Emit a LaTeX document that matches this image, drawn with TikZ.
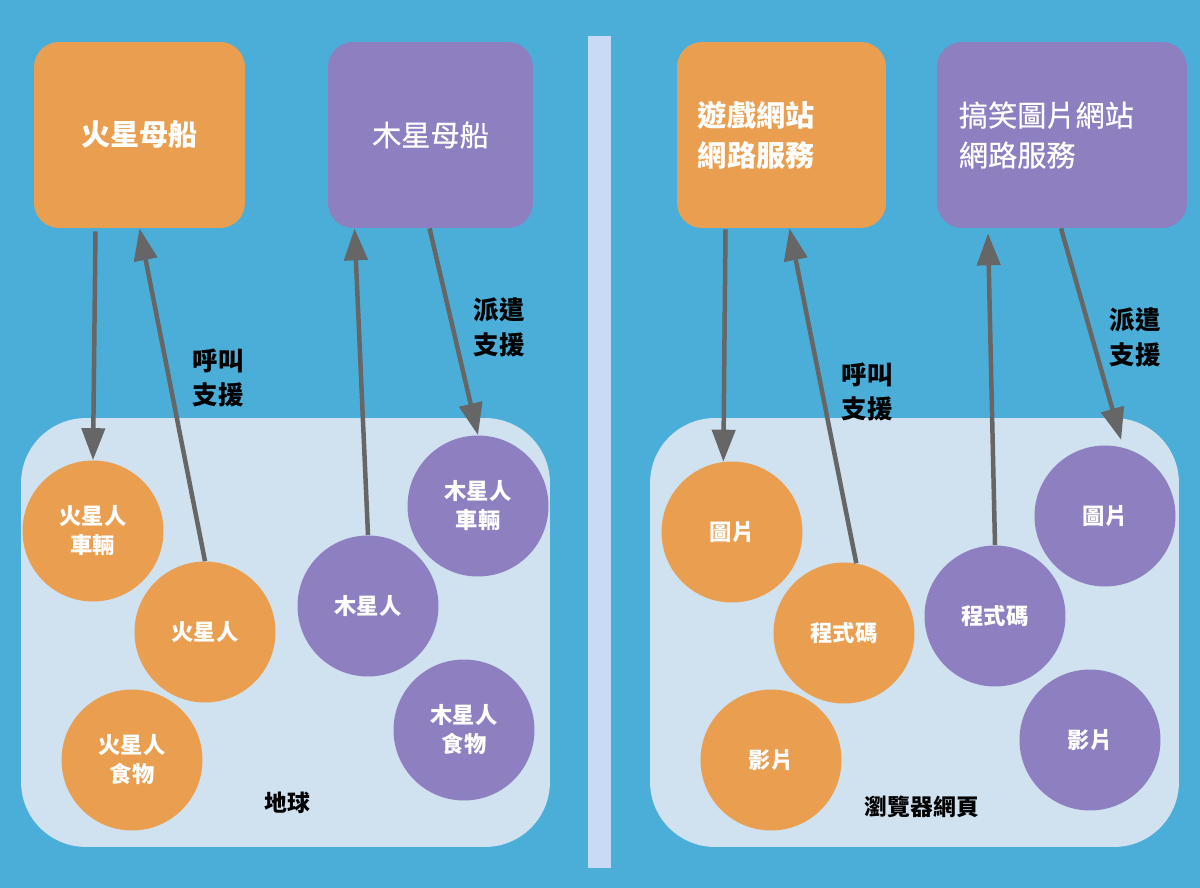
\documentclass[tikz,border=0pt]{standalone}
\usepackage{fontspec}
\setmainfont{Noto Sans CJK TC}
\newfontfamily\midcjk{Noto Sans CJK TC}[FakeBold=0.6]
\usepackage{tikz}
\usetikzlibrary{arrows.meta, calc, positioning}

\definecolor{skyblue}{RGB}{75,174,216}
\definecolor{marsorange}{RGB}{233,158,80}
\definecolor{jupviolet}{RGB}{142,127,192}
\definecolor{panelblue}{RGB}{208,225,240}
\definecolor{dividerblue}{RGB}{200,218,245}
\definecolor{arrowgrey}{RGB}{102,102,102}

\begin{document}
\begin{tikzpicture}[
        x=0.02cm, y=-0.02cm,
        ship/.style={rectangle, rounded corners=0.5cm, minimum height=3.72cm, text=white, font=\midcjk\fontsize{16.6}{22.7}\selectfont},
        person/.style={circle, inner sep=0pt, minimum size=2.82cm, text=white, align=center, font=\bfseries\fontsize{12.7}{16.5}\selectfont},
        panel/.style={rectangle, fill=panelblue, rounded corners=1.3cm, minimum width=10.58cm, minimum height=8.58cm},
        tag/.style={align=left, font=\bfseries\fontsize{14.5}{19.8}\selectfont},
        place/.style={font=\bfseries\fontsize{13}{16}\selectfont},
        link/.style={-{Triangle[length=0.64cm, width=0.46cm]}, draw=arrowgrey, fill=arrowgrey, line width=0.09cm}
    ]
        \useasboundingbox (0,0) rectangle (1200,888);
        \fill[skyblue] (0,0) rectangle (1200,888);
        \fill[dividerblue] (588,36) rectangle (611,868);

        % Containers
        \node[panel] (earth) at (285.5,632.5) {};
        \node[panel] (browser) at (914.5,632.5) {};
        \node[place] (earthname) at (287,803) {地球};
        \node[place] (browsername) at (922,807) {瀏覽器網頁};

        % Mother ships
        \node[ship, fill=marsorange, minimum width=4.22cm, font=\bfseries\fontsize{16.6}{22.7}\selectfont] (mars) at (139.5,135) {火星母船};
        \node[ship, fill=jupviolet, minimum width=4.10cm] (jup) at (430.5,135) {木星母船};
        \node[ship, fill=marsorange, minimum width=4.18cm] (game) at (781.5,135) {};
        \node[ship, fill=jupviolet, minimum width=5.00cm] (funny) at (1062,135) {};
        \node[ship, anchor=west, align=left, font=\bfseries\fontsize{16.6}{22.7}\selectfont] (gametext) at ($(game.west)+(15,0)$) {遊戲網站\\網路服務};
        \node[ship, anchor=west, align=left] (funnytext) at ($(funny.west)+(16,0)$) {搞笑圖片網站\\網路服務};

        % Earth people
        \node[person, fill=marsorange] (marscar) at (93,531) {火星人\\車輛};
        \node[person, fill=marsorange] (marsman) at (205,632) {火星人};
        \node[person, fill=marsorange] (marsfood) at (132,760) {火星人\\食物};
        \node[person, fill=jupviolet] (jupman) at (368,606) {木星人};
        \node[person, fill=jupviolet] (jupcar) at (478,506) {木星人\\車輛};
        \node[person, fill=jupviolet] (jupfood) at (464,730) {木星人\\食物};

        % Web page parts
        \node[person, fill=marsorange] (oimg) at (732,532) {圖片};
        \node[person, fill=marsorange] (ocode) at (844,633) {程式碼};
        \node[person, fill=marsorange] (ovideo) at (771,760) {影片};
        \node[person, fill=jupviolet] (pcode) at (995,616) {程式碼};
        \node[person, fill=jupviolet] (pimg) at (1105,516) {圖片};
        \node[person, fill=jupviolet] (pvideo) at (1090,740) {影片};

        % Calls and dispatches
        \draw[link] ($(mars.south)+(-44,3)$) -- (marscar.north);
        \draw[link] (marsman.north) -- (mars.south);
        \draw[link] (jupman.north) -- ($(jup.south)+(-76,0)$);
        \draw[link] ($(jup.south)+(-1,0)$) -- (jupcar.north);
        \draw[link] ($(game.south)+(-56,1)$) -- (oimg.97);
        \draw[link] (ocode.80) -- ($(game.south)+(8,0)$);
        \draw[link] (pcode.north) -- ($(funny.south)+(-74,5)$);
        \draw[link, shorten >=0.16cm] ($(funny.south)+(-1,0)$) -- (pimg.75);

        \node[tag] (callleft) at (218,378) {呼叫\\支援};
        \node[tag] (sendleft) at (499,327) {派遣\\支援};
        \node[tag] (callright) at (867,392) {呼叫\\支援};
        \node[tag] (sendright) at (1135,337) {派遣\\支援};
    \end{tikzpicture}
\end{document}
